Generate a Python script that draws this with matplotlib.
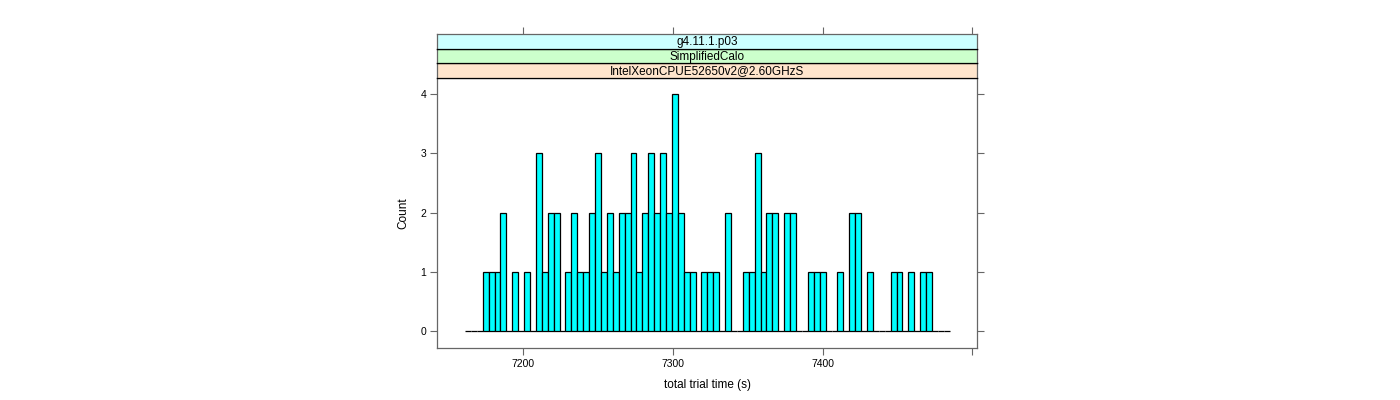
import numpy as np
import matplotlib
matplotlib.use('Agg')
import matplotlib.pyplot as plt

plt.rcParams['font.family'] = ['Liberation Sans', 'DejaVu Sans']

# histogram breaks (s) and counts per bin
bin_start = 7161.0
bin_width = 3.95
counts = [0, 0, 0, 1, 1, 1, 2, 0, 1, 0,
          1, 0, 3, 1, 2, 2, 0, 1, 2, 1,
          1, 2, 3, 1, 2, 1, 2, 2, 3, 1,
          2, 3, 2, 3, 2, 4, 2, 1, 1, 0,
          1, 1, 1, 0, 2, 0, 0, 1, 1, 3,
          1, 2, 2, 0, 2, 2, 0, 0, 1, 1,
          1, 0, 0, 1, 0, 2, 2, 0, 1, 0,
          0, 0, 1, 1, 0, 1, 0, 1, 1, 0,
          0, 0]
strip_labels = ['IntelXeonCPUE52650v2@2.60GHzS', 'SimplifiedCalo', 'g4.11.1.p03']
strip_colors = ['#FFE5CC', '#CCFFCC', '#CCFFFF']
x_ticks = [7200, 7300, 7400, 7500]
x_ticklabels = ['7200', '7300', '7400', '']
y_ticks = [0, 1, 2, 3, 4]

W, H = 1400, 400
fig = plt.figure(figsize=(W / 100, H / 100), dpi=100)

frame_col = '#666666'
px_l, px_r, px_b, px_t = 437.3, 977.3, 347.7, 77.7
strip_h = 14.47

ax = fig.add_axes([px_l / W, 1 - px_b / H, (px_r - px_l) / W, (px_b - px_t) / H])
edges = bin_start + bin_width * np.arange(len(counts))
ax.bar(edges, counts, width=bin_width, align='edge', color='#00FFFF',
       edgecolor='black', linewidth=0.9)
ax.set_xlim(7142.5, 7503.3)
ax.set_ylim(-0.28, 4.28)
ax.set_xticks(x_ticks)
ax.set_xticklabels(x_ticklabels)
ax.set_yticks(y_ticks)
ax.tick_params(axis='both', direction='out', length=5, width=0.8, color=frame_col,
               labelsize=7.5, pad=3)
ax.tick_params(axis='y', right=True, left=True)
for s in ax.spines.values():
    s.set_color(frame_col)
    s.set_linewidth(0.9)
ax.set_xlabel('total trial time (s)', fontsize=8.5, labelpad=7)
ax.set_ylabel('Count', fontsize=8.5, labelpad=8)

# strips above the panel
for k, (lab, col) in enumerate(zip(strip_labels, strip_colors)):
    top = px_t - strip_h * (k + 1)
    sax = fig.add_axes([px_l / W, 1 - (top + strip_h) / H, (px_r - px_l) / W, strip_h / H])
    sax.set_facecolor(col)
    sax.set_xlim(7142.5, 7503.3)
    sax.set_ylim(0, 1)
    sax.set_yticks([])
    sax.text(0.5, 0.45, lab, transform=sax.transAxes, ha='center', va='center',
             fontsize=8.5)
    for name, s in sax.spines.items():
        s.set_linewidth(0.9)
        s.set_color(frame_col if name in ('left', 'right') else 'black')
    if k == len(strip_labels) - 1:
        sax.spines['top'].set_color(frame_col)
        sax.set_xticks(x_ticks)
        sax.tick_params(axis='x', top=True, bottom=False, labeltop=False,
                        labelbottom=False, direction='out', length=5,
                        width=0.8, color=frame_col)
    else:
        sax.set_xticks([])

fig.savefig('out.png', dpi=100)
